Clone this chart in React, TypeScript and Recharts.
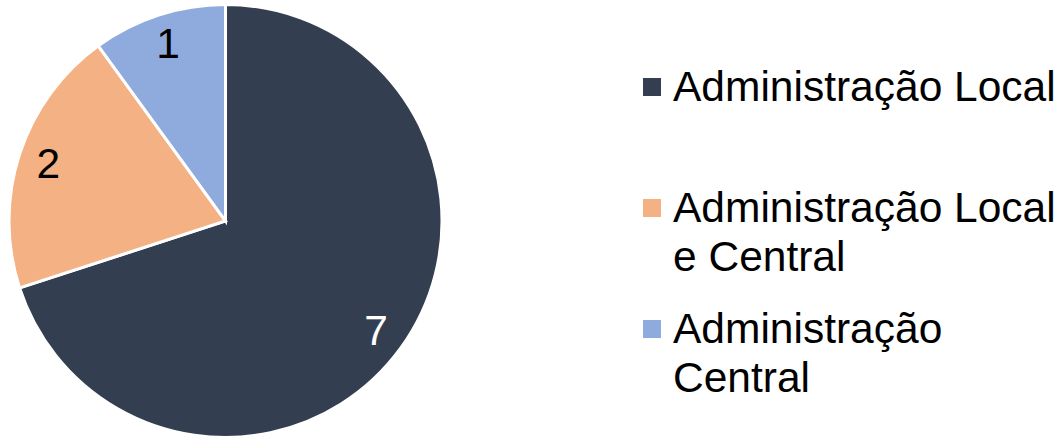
import { PieChart, Pie, Cell, Legend } from 'recharts';

const categories = ['Administração Local', 'Administração Local e Central', 'Administração Central'];
const counts = [7, 2, 1];
const colors = ['#333F50', '#F4B183', '#8FAADC'];
const labelColors = ['#FFFFFF', '#000000', '#000000'];

const FONT = '"Liberation Sans", Arial, sans-serif';

const data = categories.map((name, i) => ({ name, value: counts[i] }));

const RADIAN = Math.PI / 180;

function renderLabel(props: any) {
  const { cx, cy, midAngle, outerRadius, value, index } = props;
  const r = outerRadius * 0.86;
  const x = cx + r * Math.cos(-midAngle * RADIAN);
  const y = cy + r * Math.sin(-midAngle * RADIAN);
  return (
    <text
      x={x}
      y={y}
      fill={labelColors[index]}
      textAnchor="middle"
      dominantBaseline="central"
      style={{ fontFamily: FONT, fontSize: 42.5 }}
    >
      {value}
    </text>
  );
}

function LegendContent() {
  return (
    <div style={{ fontFamily: FONT, fontSize: 42.5, lineHeight: '49px', color: '#000' }}>
      {categories.map((name, i) => (
        <div key={name} style={{ height: 121, display: 'flex', alignItems: 'flex-start' }}>
          <div style={{ width: 18, height: 18, marginTop: 16, background: colors[i], flexShrink: 0 }} />
          <div style={{ marginLeft: 12, width: 400 }}>{name}</div>
        </div>
      ))}
    </div>
  );
}

export default function App() {
  return (
    <div style={{ position: 'absolute', left: 0, top: 0, width: 1063, height: 437, background: '#fff' }}>
      <PieChart width={1063} height={437} margin={{ top: 0, right: 0, bottom: 0, left: 0 }}>
        <Pie
          data={data}
          dataKey="value"
          nameKey="name"
          cx={225.5}
          cy={221}
          outerRadius={216.5}
          startAngle={90}
          endAngle={-270}
          stroke="#FFFFFF"
          strokeWidth={3}
          label={renderLabel}
          labelLine={false}
          isAnimationActive={false}
        >
          {data.map((entry, index) => (
            <Cell key={`cell-${index}`} fill={colors[index]} />
          ))}
        </Pie>
        <Legend
          layout="vertical"
          align="right"
          verticalAlign="top"
          content={<LegendContent />}
          wrapperStyle={{ left: 643, top: 62, width: 420, right: 'auto', bottom: 'auto' }}
        />
      </PieChart>
    </div>
  );
}
